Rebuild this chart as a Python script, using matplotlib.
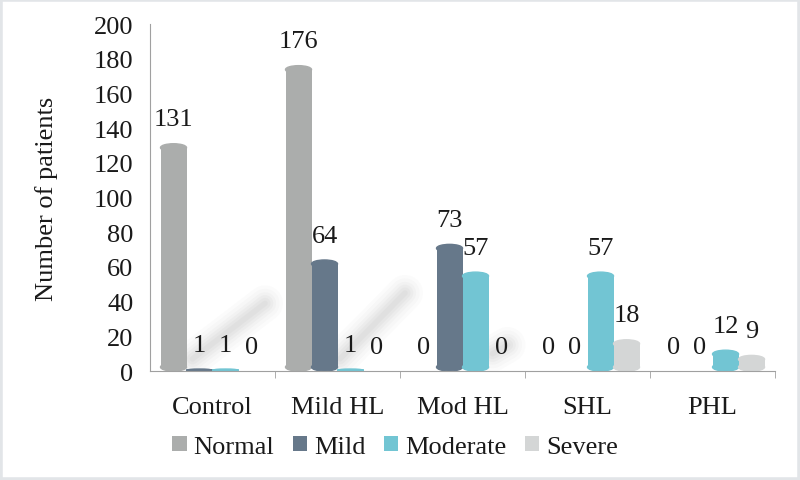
import numpy as np
import matplotlib
matplotlib.use("Agg")
import matplotlib.pyplot as plt
from matplotlib.patches import Ellipse, Rectangle

# === DATA ===
categories = ["Control", "Mild HL", "Mod HL", "SHL", "PHL"]
series_names = ["Normal", "Mild", "Moderate", "Severe"]
normal = [131, 176, 0, 0, 0]
mild = [1, 64, 73, 0, 0]
moderate = [1, 1, 57, 57, 12]
severe = [0, 0, 0, 18, 9]
colors = ["#ABADAC", "#66788A", "#72C5D3", "#D4D6D6"]

# soft cast shadows (decoration): start offset, x length, rise, per category
shadows = [(0.34, 0.58, 32), (0.52, 0.52, 38), (0.74, 0.12, 5)]

plt.rcParams["font.family"] = ["Liberation Serif", "DejaVu Serif"]
FS = 19

fig = plt.figure(figsize=(8, 4.81), dpi=100)
ax = fig.add_axes([0.1875, 0.2266, 0.7813, 0.7214])

bar_w = 0.208
x = np.arange(len(categories)) + 0.5
all_series = [normal, mild, moderate, severe]
cap_h = 4.5

# blurred shadows behind the bars
for ci, (off, ln, rise) in enumerate(shadows):
    x0 = ci + off
    y0 = 7 if ci < 2 else 10
    for lw, a in [(26, 0.018), (21, 0.022), (16, 0.03), (12, 0.035), (8, 0.04), (4, 0.04)]:
        ax.plot([x0, x0 + ln], [y0, y0 + rise], color="#606060", lw=lw, alpha=a,
                solid_capstyle="round", zorder=1)

for i, (name, vals) in enumerate(zip(series_names, all_series)):
    pos = x + (i - 1.5) * bar_w
    bottoms = [min(cap_h / 2, v / 2) for v in vals]
    body = [max(v - cap_h, 0) for v in vals]
    ax.bar(pos, body, width=bar_w, bottom=bottoms, color=colors[i], label=name, zorder=2)
    for p, v in zip(pos, vals):
        if v > 0:
            h = min(cap_h, v)
            ax.add_patch(Ellipse((p, v - h / 2), bar_w, h, color=colors[i], zorder=2))
            ax.add_patch(Ellipse((p, h / 2), bar_w, h, color=colors[i], zorder=2))
        ax.text(p, v + 14, str(v), ha="center", va="center", fontsize=FS, color="#1a1a1a")

ax.set_xlim(0, len(categories))
ax.set_ylim(0, 200)
ax.set_yticks(range(0, 201, 20))
ax.set_xticks(x)
ax.set_xticklabels(categories)
ax.set_xticks(np.arange(1, len(categories) + 1), minor=True)
ax.tick_params(axis="x", which="major", length=0, pad=18, labelsize=FS, labelcolor="#1a1a1a")
ax.tick_params(axis="x", which="minor", length=5, color="#A0A0A0", direction="out")
ax.tick_params(axis="y", length=0, pad=12, labelsize=FS, labelcolor="#1a1a1a")
ax.set_ylabel("Number of patients", fontsize=FS, labelpad=26, color="#1a1a1a")

for s in ["top", "right"]:
    ax.spines[s].set_visible(False)
ax.spines["left"].set_color("#A0A0A0")
ax.spines["bottom"].set_color("#A0A0A0")

leg = ax.legend(loc="center", bbox_to_anchor=(0.392, -0.218), bbox_transform=ax.transAxes,
                ncol=4, frameon=False, fontsize=FS,
                handlelength=0.55, handleheight=0.55, handletextpad=0.25, columnspacing=0.7)
for t in leg.get_texts():
    t.set_color("#1a1a1a")

# light frame around the whole picture
fig.patches.append(Rectangle((0, 0), 1, 1, transform=fig.transFigure, fill=False,
                             edgecolor="#E2E5E8", linewidth=4))

fig.savefig("out.png", dpi=100)
